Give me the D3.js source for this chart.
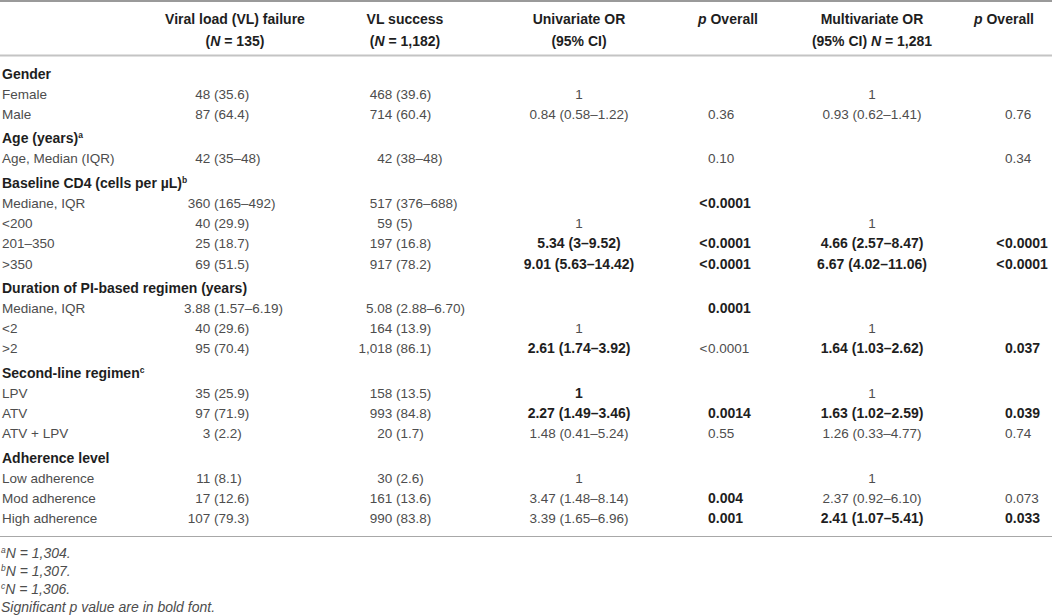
<!DOCTYPE html>
<html>
<head>
<meta charset="utf-8">
<script src="https://cdn.jsdelivr.net/npm/d3@7"></script>
<style>
  body { margin: 0; background: #fff; }
  text { white-space: pre; }
</style>
</head>
<body>
<div id="table"></div>
<script>
// Column headers (two lines each)
const headerLine1 = ["Viral load (VL) failure", "VL success", "Univariate OR", "p Overall", "Multivariate OR", "p Overall"];
const headerLine2 = ["(N = 135)", "(N = 1,182)", "(95% CI)", "", "(95% CI) N = 1,281", ""];

// Row groups
const groupLabels = ["Gender", "Age (years)", "Baseline CD4 (cells per µL)", "Duration of PI-based regimen (years)", "Second-line regimen", "Adherence level"];
const groupNotes = ["", "a", "b", "", "c", ""];

// Rows
const rowGroup = [0, 0, 1, 2, 2, 2, 2, 3, 3, 3, 4, 4, 4, 5, 5, 5];
const rowLabels = ["Female", "Male", "Age, Median (IQR)", "Mediane, IQR", "<200", "201–350", ">350",
  "Mediane, IQR", "<2", ">2", "LPV", "ATV", "ATV + LPV", "Low adherence", "Mod adherence", "High adherence"];
const vlFailure = ["48 (35.6)", "87 (64.4)", "42 (35–48)", "360 (165–492)", "40 (29.9)", "25 (18.7)", "69 (51.5)",
  "3.88 (1.57–6.19)", "40 (29.6)", "95 (70.4)", "35 (25.9)", "97 (71.9)", "3 (2.2)", "11 (8.1)", "17 (12.6)", "107 (79.3)"];
const vlSuccess = ["468 (39.6)", "714 (60.4)", "42 (38–48)", "517 (376–688)", "59 (5)", "197 (16.8)", "917 (78.2)",
  "5.08 (2.88–6.70)", "164 (13.9)", "1,018 (86.1)", "158 (13.5)", "993 (84.8)", "20 (1.7)", "30 (2.6)", "161 (13.6)", "990 (83.8)"];
const univariateOR = ["1", "0.84 (0.58–1.22)", "", "", "1", "5.34 (3–9.52)", "9.01 (5.63–14.42)",
  "", "1", "2.61 (1.74–3.92)", "1", "2.27 (1.49–3.46)", "1.48 (0.41–5.24)", "1", "3.47 (1.48–8.14)", "3.39 (1.65–6.96)"];
const pUnivariate = ["", "0.36", "0.10", "<0.0001", "", "<0.0001", "<0.0001",
  "0.0001", "", "<0.0001", "", "0.0014", "0.55", "", "0.004", "0.001"];
const multivariateOR = ["1", "0.93 (0.62–1.41)", "", "", "1", "4.66 (2.57–8.47)", "6.67 (4.02–11.06)",
  "", "1", "1.64 (1.03–2.62)", "1", "1.63 (1.02–2.59)", "1.26 (0.33–4.77)", "1", "2.37 (0.92–6.10)", "2.41 (1.07–5.41)"];
const pMultivariate = ["", "0.76", "0.34", "", "", "<0.0001", "<0.0001",
  "", "", "0.037", "", "0.039", "0.74", "", "0.073", "0.033"];

// Significant cells, [row, column] with columns 2=univariate, 3=p, 4=multivariate, 5=p
const significant = [[3, 3], [5, 2], [5, 3], [5, 4], [5, 5], [6, 2], [6, 3], [6, 4], [6, 5], [7, 3],
  [9, 2], [9, 4], [9, 5], [10, 2], [11, 2], [11, 3], [11, 4], [11, 5], [14, 3], [15, 3], [15, 4], [15, 5]];

// Footnotes
const footnoteMarks = ["a", "b", "c", ""];
const footnoteTexts = ["N = 1,304.", "N = 1,307.", "N = 1,306.", "Significant p value are in bold font."];

const width = 1052, height = 615;
const bodySize = 13.5, boldSize = 14;
const textColor = "#4d4d4d", boldColor = "#1e1e1e";

const svg = d3.select("#table").append("svg")
  .attr("width", width)
  .attr("height", height)
  .style("font-family", "'Liberation Sans', Arial, sans-serif");

// Horizontal positions
const headerX = [235, 405, 579, 728, 872, 1004];
const labelX = 2;
const failureParenX = 214;
const successParenX = 396;
const uniX = 579, p1X = 708, multiX = 872, p2X = 1005;

// Vertical layout: each data row one step, each new group an extra gap
const rowStep = 20.2, groupGap = 24.3, firstY = 78.5;
const items = [];
let cy = firstY;
groupLabels.forEach((g, gi) => {
  if (gi > 0) cy += groupGap;
  items.push({ type: "group", index: gi, y: cy });
  rowGroup.forEach((rg, ri) => {
    if (rg === gi) {
      cy += rowStep;
      items.push({ type: "row", index: ri, y: cy });
    }
  });
});

const isBold = (r, c) => significant.some(d => d[0] === r && d[1] === c);

// Rules
svg.append("line").attr("x1", 0).attr("x2", width).attr("y1", 1).attr("y2", 1)
  .attr("stroke", "#9a9a9a").attr("stroke-width", 2);
svg.append("line").attr("x1", 0).attr("x2", width).attr("y1", 55.5).attr("y2", 55.5)
  .attr("stroke", "#c4c4c4").attr("stroke-width", 2);
svg.append("line").attr("x1", 0).attr("x2", width).attr("y1", 536.5).attr("y2", 536.5)
  .attr("stroke", "#a8a8a8").attr("stroke-width", 1.2);

// Text with italic N and p
function rich(text, str) {
  str.split(/(\bN\b|^p\b| p )/).filter(s => s).forEach(s => {
    const it = (s === "N" || s === "p" || s === " p ");
    text.append("tspan")
      .style("font-style", it ? "italic" : null)
      .text(s);
  });
}

// Header
const header = svg.append("g")
  .attr("font-weight", "bold")
  .attr("font-size", boldSize)
  .attr("fill", boldColor)
  .attr("text-anchor", "middle");

headerLine1.forEach((h, i) => {
  rich(header.append("text").attr("x", headerX[i]).attr("y", 24), h);
  if (headerLine2[i]) rich(header.append("text").attr("x", headerX[i]).attr("y", 46), headerLine2[i]);
});

const body = svg.append("g").attr("font-size", bodySize).attr("fill", textColor);

function styleBold(t, bold) {
  if (bold) t.attr("font-weight", "bold").attr("font-size", boldSize).attr("fill", boldColor);
  return t;
}

// Number left of the parenthesis, parenthesis part right of it
function parenCell(str, x, y) {
  const i = str.indexOf(" (");
  body.append("text").attr("x", x - 3.75).attr("y", y).attr("text-anchor", "end").text(str.slice(0, i));
  body.append("text").attr("x", x).attr("y", y).text(str.slice(i + 1));
}

function centerCell(str, x, y, bold) {
  if (!str) return;
  styleBold(body.append("text").attr("x", x).attr("y", y).attr("text-anchor", "middle").text(str), bold);
}

// p values aligned on their first digit, "<" hanging to the left
function pCell(str, x, y, bold) {
  if (!str) return;
  if (str.startsWith("<")) {
    styleBold(body.append("text").attr("x", x - 0.5).attr("y", y).attr("text-anchor", "end").text("<"), bold);
    str = str.slice(1);
  }
  styleBold(body.append("text").attr("x", x).attr("y", y).text(str), bold);
}

items.forEach(it => {
  if (it.type === "group") {
    const t = body.append("text").attr("x", labelX).attr("y", it.y)
      .attr("font-weight", "bold").attr("font-size", boldSize).attr("fill", boldColor)
      .text(groupLabels[it.index]);
    if (groupNotes[it.index]) {
      t.append("tspan").attr("font-size", 8.5).attr("dy", -5).text(groupNotes[it.index]);
    }
    return;
  }
  const r = it.index, y = it.y;
  body.append("text").attr("x", labelX).attr("y", y).text(rowLabels[r]);
  parenCell(vlFailure[r], failureParenX, y);
  parenCell(vlSuccess[r], successParenX, y);
  centerCell(univariateOR[r], uniX, y, isBold(r, 2));
  pCell(pUnivariate[r], p1X, y, isBold(r, 3));
  centerCell(multivariateOR[r], multiX, y, isBold(r, 4));
  pCell(pMultivariate[r], p2X, y, isBold(r, 5));
});

// Footnotes
const notes = svg.append("g")
  .attr("font-size", 14)
  .attr("font-style", "italic")
  .attr("fill", textColor);

footnoteTexts.forEach((f, i) => {
  const t = notes.append("text").attr("x", 1).attr("y", 557.5 + i * 18);
  if (footnoteMarks[i]) {
    t.append("tspan").attr("font-size", 8.5).attr("dy", -4.5).text(footnoteMarks[i]);
    t.append("tspan").attr("dy", 4.5).text(f);
  } else {
    t.text(f);
  }
});
</script>
</body>
</html>
